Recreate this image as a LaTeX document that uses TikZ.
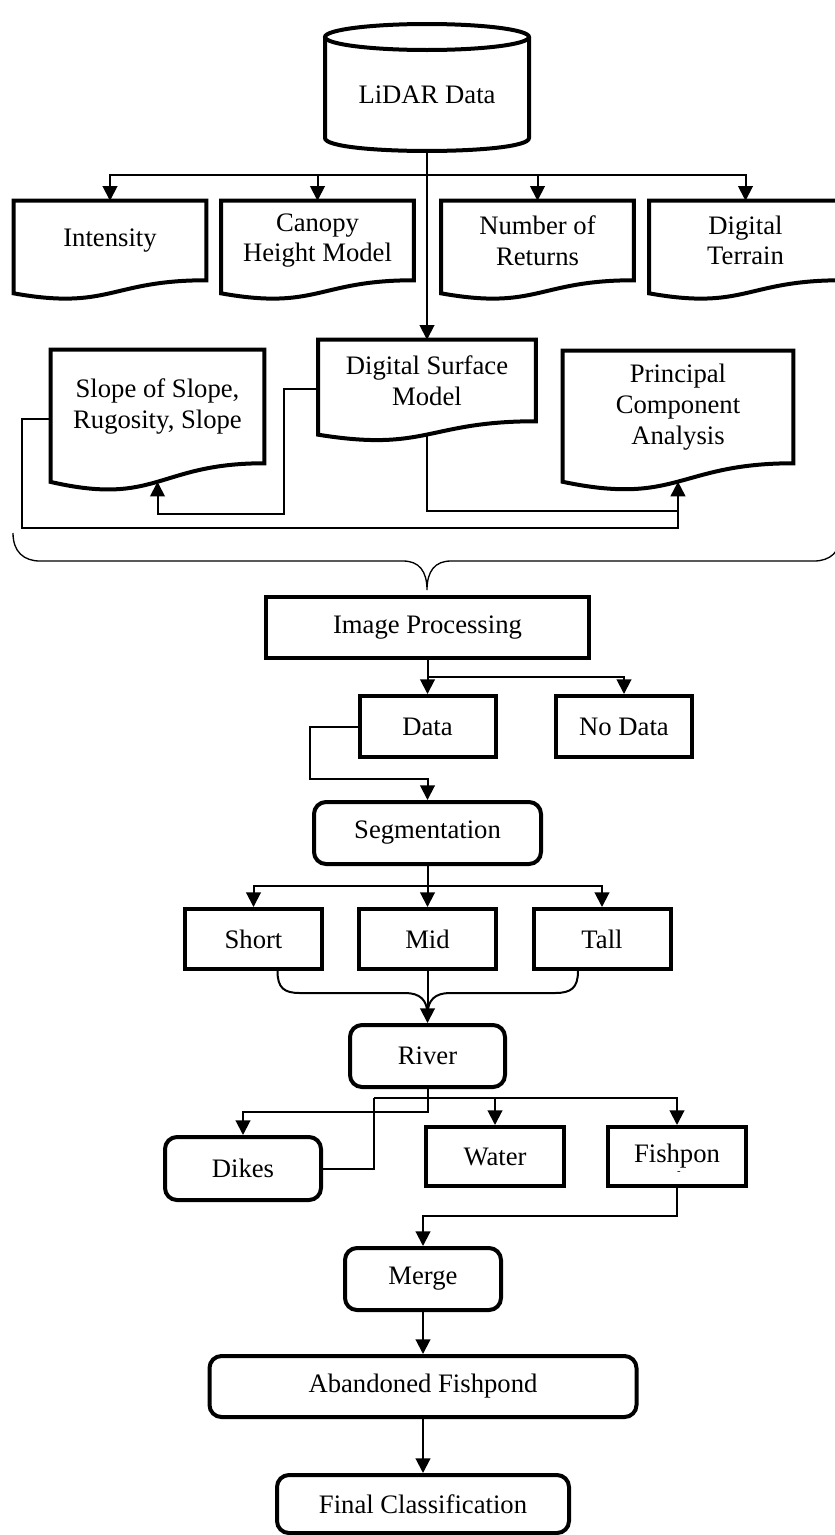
\documentclass[tikz,border=0pt]{standalone}
\usepackage{fontspec}
\setmainfont{Liberation Serif}
\usetikzlibrary{arrows.meta,calc}
\def\u{0.75pt}
\tikzset{
  lbl/.style={font=\fontsize{20}{23}\selectfont, align=center, inner sep=0pt},
  sqbox/.style={lbl, draw, line width=3pt, rectangle},
  rbox/.style={lbl, draw, line width=3pt, rectangle, rounded corners=9pt},
  docnode/.style={lbl, rectangle},
  docline/.style={line width=3pt, line join=miter},
  conn/.style={line width=1.5pt},
  arr/.style={conn, -{Triangle[width=11pt,length=11pt]}},
  thin/.style={line width=1pt}
}
\newcommand\docshape[1]{\draw[docline] (#1.north west) -- (#1.north east) -- (#1.south east)
  .. controls (#1.south) and ($(#1.south)!-0.38!(#1.north)$) .. ($(#1.south west)!-0.1646!(#1.north west)$) -- cycle;}
\begin{document}
\begin{tikzpicture}[x=0.75pt,y=-0.75pt]
\useasboundingbox (0,0) rectangle (835,1535);

% LiDAR cylinder
\node[lbl, minimum width=204*\u, minimum height=114*\u] (lidar) at (427,95) {LiDAR Data};
\draw[docline] (325,37) -- (325,138) .. controls (325,155.3) and (529,155.3) .. (529,138) -- (529,37);
\draw[docline] (427,37) ellipse [x radius=102*\u, y radius=13*\u];

% first row of documents
\node[docnode, minimum width=192*\u, minimum height=79*\u] (int) at (110,240.5) {Intensity};
\node[docnode, minimum width=192*\u, minimum height=79*\u] (cano) at (317.5,240.5) {Canopy\\Height Model};
\node[docnode, minimum width=192*\u, minimum height=79*\u] (nor) at (537.5,240.5) {Number of\\Returns};
\node[docnode, minimum width=192*\u, minimum height=79*\u] (dt) at (745.5,240.5) {Digital\\Terrain};
\docshape{int}\docshape{cano}\docshape{nor}\docshape{dt}

% second row
\node[docnode, minimum width=217*\u, minimum height=81*\u] (dsm) at (427,380.5) {Digital Surface\\Model};
\node[docnode, minimum width=213*\u, minimum height=113*\u] (slope) at (157.5,406.5) {Slope of Slope,\\Rugosity, Slope};
\node[docnode, minimum width=230*\u, minimum height=112*\u] (pca) at (678,407) {Principal\\Component\\Analysis};
\docshape{dsm}\docshape{slope}\docshape{pca}
\coordinate (dsmb) at ($(dsm.south)!-0.163!(dsm.north)$);
\coordinate (slopeb) at ($(slope.south)!-0.163!(slope.north)$);
\coordinate (pcab) at ($(pca.south)!-0.163!(pca.north)$);

% connectors top part
\coordinate (hub1) at (427,175);
\draw[arr] (lidar.south) -- (dsm.north);
\draw[arr] (hub1) -| (int.north);
\draw[arr] (hub1) -| (cano.north);
\draw[arr] (hub1) -| (nor.north);
\draw[arr] (hub1) -| (dt.north);
\draw[arr] (dsm.west |- 0,389) -- (284,389) -- (284,514) -| (slopeb);
\draw[arr] (dsmb) -- (dsmb |- 0,511) -| (pcab);
\draw[conn] (slope.west |- 0,419) -- (22,419) -- (22,528) -| (pcab);

% brace
\draw[thin] (13,533) .. controls (13,552) and (24,561) .. (40,561) -- (403,561)
  .. controls (419,561) and (427,571) .. (427,590)
  .. controls (427,571) and (435,561) .. (451,561) -- (814,561)
  .. controls (830,561) and (841,552) .. (841,533);

% image processing
\node[sqbox, minimum width=323*\u, minimum height=61*\u] (ip) at (427.5,627.5) {Image Processing};
\node[sqbox, minimum width=136*\u, minimum height=61*\u] (data) at (427.5,726.5) {Data};
\node[sqbox, minimum width=136*\u, minimum height=61*\u] (nodata) at (624,726.5) {No Data};
\draw[arr] (ip.south) -- (data.north);
\draw[arr] (ip.south) -- ++(0,17) -| (nodata.north);

\node[rbox, minimum width=227*\u, minimum height=62*\u] (seg) at (427.5,833) {Segmentation};
\draw[arr] (data.west) -- (310,726.5) -- (310,779) -| (seg.north);

\node[sqbox, minimum width=137*\u, minimum height=60*\u] (short) at (253.5,939) {Short};
\node[sqbox, minimum width=137*\u, minimum height=60*\u] (mid) at (427.5,939) {Mid};
\node[sqbox, minimum width=137*\u, minimum height=60*\u] (tall) at (602,939) {Tall};
\coordinate (hub2) at (427.5,886);
\draw[conn] (seg.south) -- (hub2);
\draw[arr] (hub2) -| (short.north);
\draw[arr] (hub2) -- (mid.north);
\draw[arr] (hub2) -| (tall.north);

\node[rbox, minimum width=155*\u, minimum height=62*\u] (river) at (427.5,1056) {River};
\draw[arr] (mid.south) -- (river.north);
\draw[conn] ($(short.south)+(24,0)$) .. controls +(0,17) and (284,993) .. (300,993) -- (405,993)
  .. controls (420,993) and (427.5,1000) .. (427.5,1015);
\draw[conn] ($(tall.south)+(-24,0)$) .. controls +(0,17) and (571,993) .. (555,993) -- (450,993)
  .. controls (435,993) and (427.5,1000) .. (427.5,1015);

\node[rbox, minimum width=156*\u, minimum height=63*\u] (dikes) at (243,1168.5) {Dikes};
\node[sqbox, minimum width=138*\u, minimum height=59*\u] (water) at (495,1156.5) {Water};
\node[sqbox, minimum width=138*\u, minimum height=59*\u] (fish) at (677,1156.5) {Fishpon};
\node[inner sep=0pt, font=\fontsize{8}{8}\selectfont] (fishdot) at (679,1173) {-};
\draw[arr] (river.south) -- ++(0,23) -| (dikes.north);
\coordinate (hub3) at (374,1098);
\draw[conn] (dikes.east) -- (hub3 |- dikes.east) -- (hub3);
\draw[arr] (hub3) -| (water.north);
\draw[arr] (hub3) -| (fish.north);

\node[rbox, minimum width=156*\u, minimum height=62*\u] (merge) at (423,1279) {Merge};
\draw[arr] (fish.south) -- (677,1216) -| (merge.north);

\node[rbox, minimum width=427*\u, minimum height=61*\u] (aband) at (423,1386.5) {Abandoned Fishpond};
\draw[arr] (merge.south) -- (aband.north);

\node[rbox, minimum width=292*\u, minimum height=58*\u] (final) at (423,1504) {Final Classification};
\draw[arr] (aband.south) -- (final.north);
\end{tikzpicture}
\end{document}
